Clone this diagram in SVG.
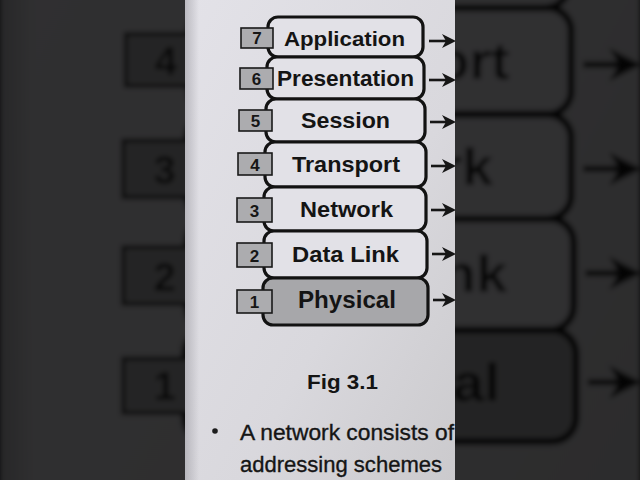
<svg xmlns="http://www.w3.org/2000/svg" xmlns:xlink="http://www.w3.org/1999/xlink" width="640" height="480" viewBox="0 0 640 480">
  <defs>
    <style>
      .layer { stroke: #121212; stroke-width: 3.2; fill: #e2e1e7; }
      .layer.phys { fill: #a7a7aa; }
      .num { stroke: #1a1a1a; stroke-width: 1.6; fill: #acacaf; }
      .lbl { font-family: "Liberation Sans", Arial, sans-serif; font-weight: bold; fill: #141414; text-anchor: middle; }
      .numt { font-family: "Liberation Sans", Arial, sans-serif; font-weight: bold; font-size: 17px; fill: #161616; text-anchor: middle; }
      .body { font-family: "Liberation Sans", Arial, sans-serif; font-size: 22px; fill: #151515; stroke: #151515; stroke-width: 0.35; }
      .arrow { stroke: #161616; stroke-width: 2.6; fill: none; }
      .head { fill: #161616; }
    </style>
    <linearGradient id="paper" x1="0" y1="0" x2="1" y2="1">
      <stop offset="0" stop-color="#e3e2e8"/>
      <stop offset="0.6" stop-color="#d9d8dd"/>
      <stop offset="1" stop-color="#cbcacd"/>
    </linearGradient>
    <linearGradient id="edge" x1="0" y1="0" x2="1" y2="0">
      <stop offset="0" stop-color="#9a99a0" stop-opacity="0.55"/>
      <stop offset="1" stop-color="#9a99a0" stop-opacity="0"/>
    </linearGradient>
    <clipPath id="pageclip">
      <rect x="185" y="0" width="270" height="480"/>
    </clipPath>
    <filter id="soft" x="-5%" y="-5%" width="110%" height="110%">
      <feGaussianBlur stdDeviation="1.2"/>
    </filter>
  </defs>

  <!-- blurred, enlarged backdrop (video side bars) -->
  <rect x="0" y="0" width="640" height="480" fill="#38383b"/>
  <use xlink:href="#page" href="#page" transform="translate(320 240) scale(2.37) translate(-320 -240)" filter="url(#soft)"/>
  <rect x="0" y="0" width="640" height="480" fill="#000" opacity="0.79"/>

  <g id="page" clip-path="url(#pageclip)">
    <rect x="185" y="0" width="270" height="480" fill="url(#paper)"/>
    <rect x="185" y="0" width="14" height="480" fill="url(#edge)"/>

    <g id="connectors">
      <g id="arrow-application"><line class="arrow" x1="429" y1="41" x2="446" y2="41"/><path class="head" d="M456,41 L442,34 L446,41 L442,48 Z"/></g>
      <g id="arrow-presentation"><line class="arrow" x1="429" y1="80" x2="446" y2="80"/><path class="head" d="M456,80 L442,73 L446,80 L442,87 Z"/></g>
      <g id="arrow-session"><line class="arrow" x1="430" y1="122" x2="446" y2="122"/><path class="head" d="M456,122 L442,115 L446,122 L442,129 Z"/></g>
      <g id="arrow-transport"><line class="arrow" x1="431" y1="166" x2="446" y2="166"/><path class="head" d="M456,166 L442,159 L446,166 L442,173 Z"/></g>
      <g id="arrow-network"><line class="arrow" x1="431" y1="210" x2="446" y2="210"/><path class="head" d="M456,210 L442,203 L446,210 L442,217 Z"/></g>
      <g id="arrow-datalink"><line class="arrow" x1="432" y1="254" x2="446" y2="254"/><path class="head" d="M456,254 L442,247 L446,254 L442,261 Z"/></g>
      <g id="arrow-physical"><line class="arrow" x1="433" y1="300" x2="446" y2="300"/><path class="head" d="M456,300 L442,293 L446,300 L442,307 Z"/></g>
    </g>

    <g id="layer-7">
      <rect class="layer" x="268" y="17" width="155" height="40" rx="10"/>
      <text class="lbl" x="344.5" y="46" font-size="21" textLength="121" lengthAdjust="spacingAndGlyphs">Application</text>
      <rect class="num" x="241" y="28" width="32" height="20"/>
      <text class="numt" x="257" y="44">7</text>
    </g>
    <g id="layer-6">
      <rect class="layer" x="267" y="57" width="157" height="42" rx="10"/>
      <text class="lbl" x="345.5" y="86" font-size="22" textLength="137" lengthAdjust="spacingAndGlyphs">Presentation</text>
      <rect class="num" x="240" y="68" width="33" height="21"/>
      <text class="numt" x="256.5" y="84.5">6</text>
    </g>
    <g id="layer-5">
      <rect class="layer" x="266" y="99" width="159" height="43" rx="10"/>
      <text class="lbl" x="345.5" y="128" font-size="22" textLength="89" lengthAdjust="spacingAndGlyphs">Session</text>
      <rect class="num" x="239" y="110" width="33" height="21"/>
      <text class="numt" x="255.5" y="126.5">5</text>
    </g>
    <g id="layer-4">
      <rect class="layer" x="265" y="142" width="161" height="45" rx="10"/>
      <text class="lbl" x="346" y="172" font-size="22" textLength="108" lengthAdjust="spacingAndGlyphs">Transport</text>
      <rect class="num" x="238" y="153" width="34" height="22"/>
      <text class="numt" x="255" y="170.5">4</text>
    </g>
    <g id="layer-3">
      <rect class="layer" x="264" y="187" width="162" height="44" rx="10"/>
      <text class="lbl" x="346.5" y="217" font-size="22" textLength="93" lengthAdjust="spacingAndGlyphs">Network</text>
      <rect class="num" x="237" y="198" width="35" height="24"/>
      <text class="numt" x="254.5" y="216.5">3</text>
    </g>
    <g id="layer-2">
      <rect class="layer" x="264" y="231" width="163" height="47" rx="10"/>
      <text class="lbl" x="345.5" y="262" font-size="22" textLength="107" lengthAdjust="spacingAndGlyphs">Data Link</text>
      <rect class="num" x="237" y="243" width="35" height="24"/>
      <text class="numt" x="254.5" y="261.5">2</text>
    </g>
    <g id="layer-1">
      <rect class="layer phys" x="263" y="278" width="165" height="47" rx="10"/>
      <text class="lbl" x="347" y="308" font-size="23" textLength="98" lengthAdjust="spacingAndGlyphs">Physical</text>
      <rect class="num" x="237" y="290" width="35" height="23"/>
      <text class="numt" x="254.5" y="307.5">1</text>
    </g>

    <g id="caption">
      <text class="lbl" x="342.5" y="389" font-size="21" textLength="71" lengthAdjust="spacingAndGlyphs">Fig 3.1</text>
    </g>
    <g id="body-text">
      <circle cx="215" cy="431" r="2.8" fill="#1c1c1c"/>
      <text class="body" x="240" y="440" textLength="214" lengthAdjust="spacingAndGlyphs">A network consists of</text>
      <text class="body" x="240" y="472" textLength="202" lengthAdjust="spacingAndGlyphs">addressing schemes</text>
    </g>
  </g>
</svg>
